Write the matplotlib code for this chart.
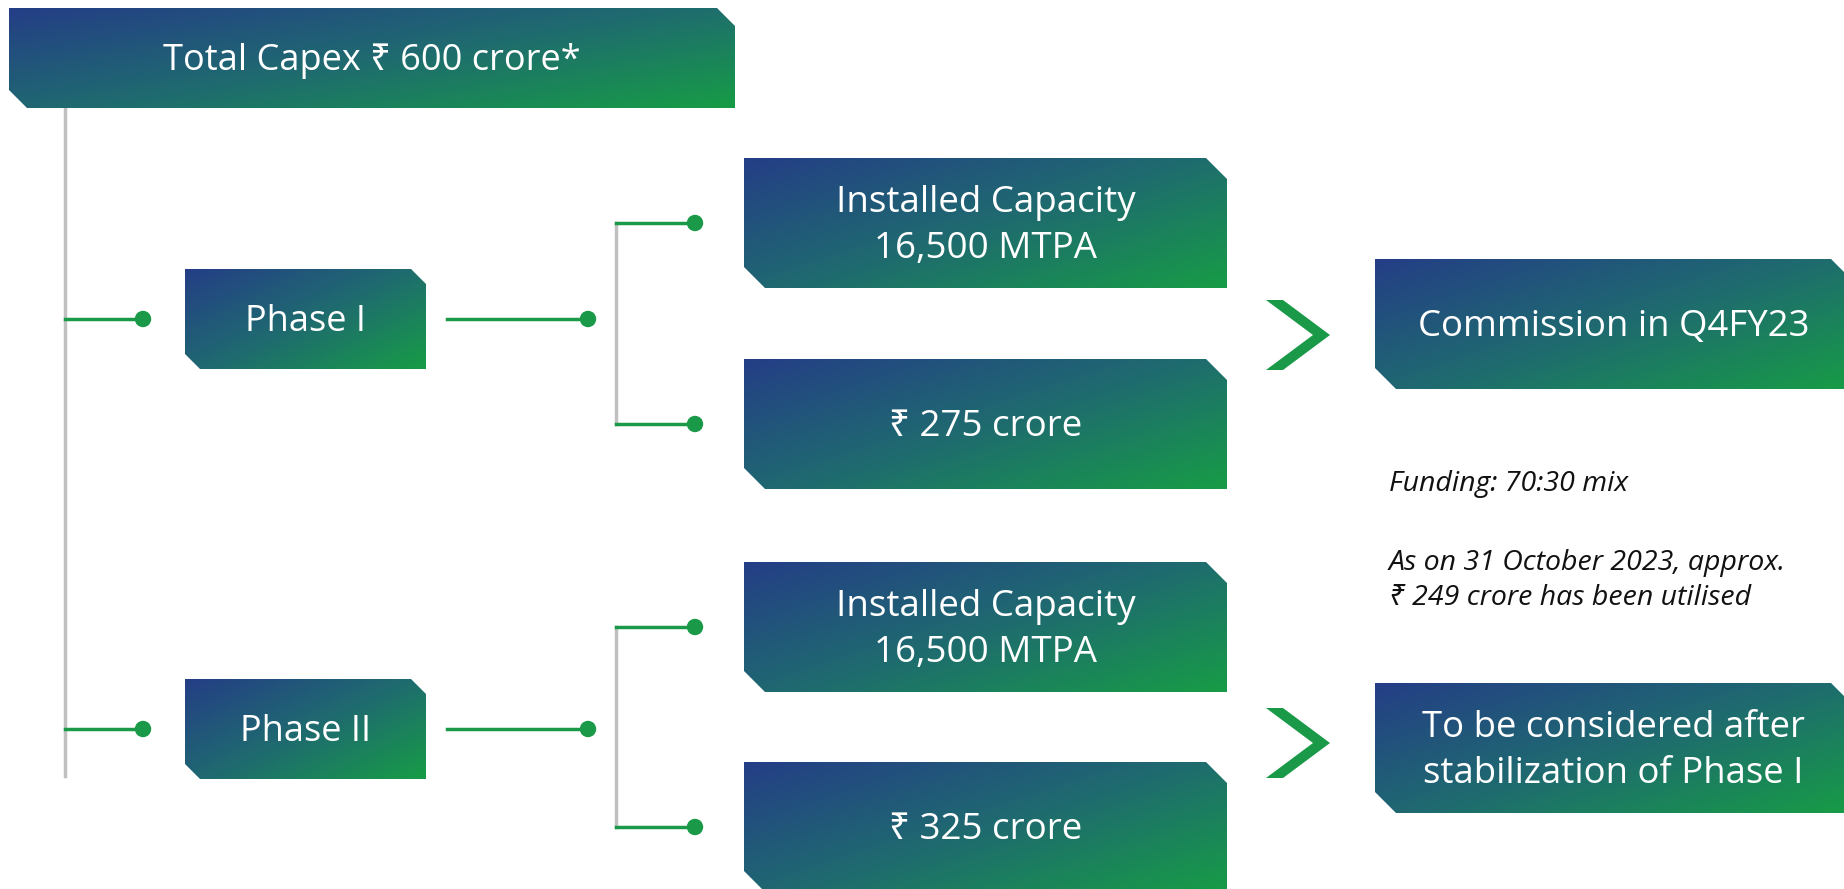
import matplotlib
matplotlib.use("Agg")
import matplotlib.pyplot as plt
import numpy as np
from matplotlib.patches import Polygon, Circle
from matplotlib.colors import LinearSegmentedColormap

# chart text
title_label = "Total Capex ₹ 600 crore*"
phase_labels = ["Phase I", "Phase II"]
detail_labels = ["Installed Capacity\n16,500 MTPA", "₹ 275 crore",
                 "Installed Capacity\n16,500 MTPA", "₹ 325 crore"]
outcome_labels = ["Commission in Q4FY23", "To be considered after\nstabilization of Phase I"]
note_lines = ["Funding: 70:30 mix", "As on 31 October 2023, approx.", "₹ 249 crore has been utilised"]

FONT = ["Open Sans", "Noto Sans", "DejaVu Sans"]
GREEN = "#1a9a48"
GREY = "#c0c0c0"
grad = LinearSegmentedColormap.from_list("g", ["#243e86", "#1f6a70", "#179c46"])

W, H = 1844, 889
fig = plt.figure(figsize=(W / 100, H / 100), dpi=100)
ax = fig.add_axes([0, 0, 1, 1])
ax.set_xlim(0, W)
ax.set_ylim(H, 0)
ax.axis("off")


def box(x0, y0, x1, y1, cut, label, size):
    pts = [(x0, y0), (x1 - cut, y0), (x1, y0 + cut), (x1, y1), (x0 + cut, y1), (x0, y1 - cut)]
    poly = Polygon(pts, closed=True, facecolor="none", edgecolor="none")
    ax.add_patch(poly)
    u, v = np.meshgrid(np.linspace(0, 1, 200), np.linspace(0, 1, 100))
    t = (u * 0.55 + v * 0.45)
    im = ax.imshow(t, cmap=grad, extent=(x0, x1, y1, y0), aspect="auto",
                   vmin=0, vmax=1, interpolation="bilinear", zorder=2)
    im.set_clip_path(poly)
    ax.text((x0 + x1) / 2, (y0 + y1) / 2 + 3, label, color="white", fontsize=size,
            family=FONT, ha="center", va="center", linespacing=1.38, zorder=3)


def dot_line(xa, xb, y):
    ax.plot([xa, xb], [y, y], color=GREEN, lw=2.5, zorder=1)
    ax.add_patch(Circle((xb, y), 7.5, color=GREEN, zorder=2))


def chevron(x, y):
    pts = [(x, y - 35), (x + 17, y - 35), (x + 64, y), (x + 17, y + 35), (x, y + 35), (x + 47, y)]
    ax.add_patch(Polygon(pts, closed=True, facecolor=GREEN, edgecolor="none", zorder=2))


# top box and trunk
box(9, 8, 735, 108, 18, title_label, 26)
ax.plot([65, 65], [108, 776], color=GREY, lw=2.5, zorder=0)

phase_y = [319, 729]
detail_y = [223, 424, 627, 827]
outcome_y = [324, 748]
chev_y = [335, 743]

for i, label in enumerate(phase_labels):
    y = phase_y[i]
    dot_line(65, 143, y)
    box(185, y - 50, 426, y + 50, 15, label, 26)
    dot_line(447, 588, y)
    ya, yb = detail_y[2 * i], detail_y[2 * i + 1]
    ax.plot([616, 616], [ya, yb], color=GREY, lw=2.5, zorder=0)
    for j, yy in enumerate([ya, yb]):
        dot_line(616, 695, yy)
        box(744, yy - 65, 1227, yy + 65, 21, detail_labels[2 * i + j], 26.5)
    chevron(1266, chev_y[i])
    box(1375, outcome_y[i] - 65, 1852, outcome_y[i] + 65, 21, outcome_labels[i], 26.3)

note_pos = [484, 563, 598]
for line, y in zip(note_lines, note_pos):
    ax.text(1389, y, line, fontsize=20.5, style="italic", family=FONT,
            color="#111111", ha="left", va="center")

fig.savefig("out.png", dpi=100)
